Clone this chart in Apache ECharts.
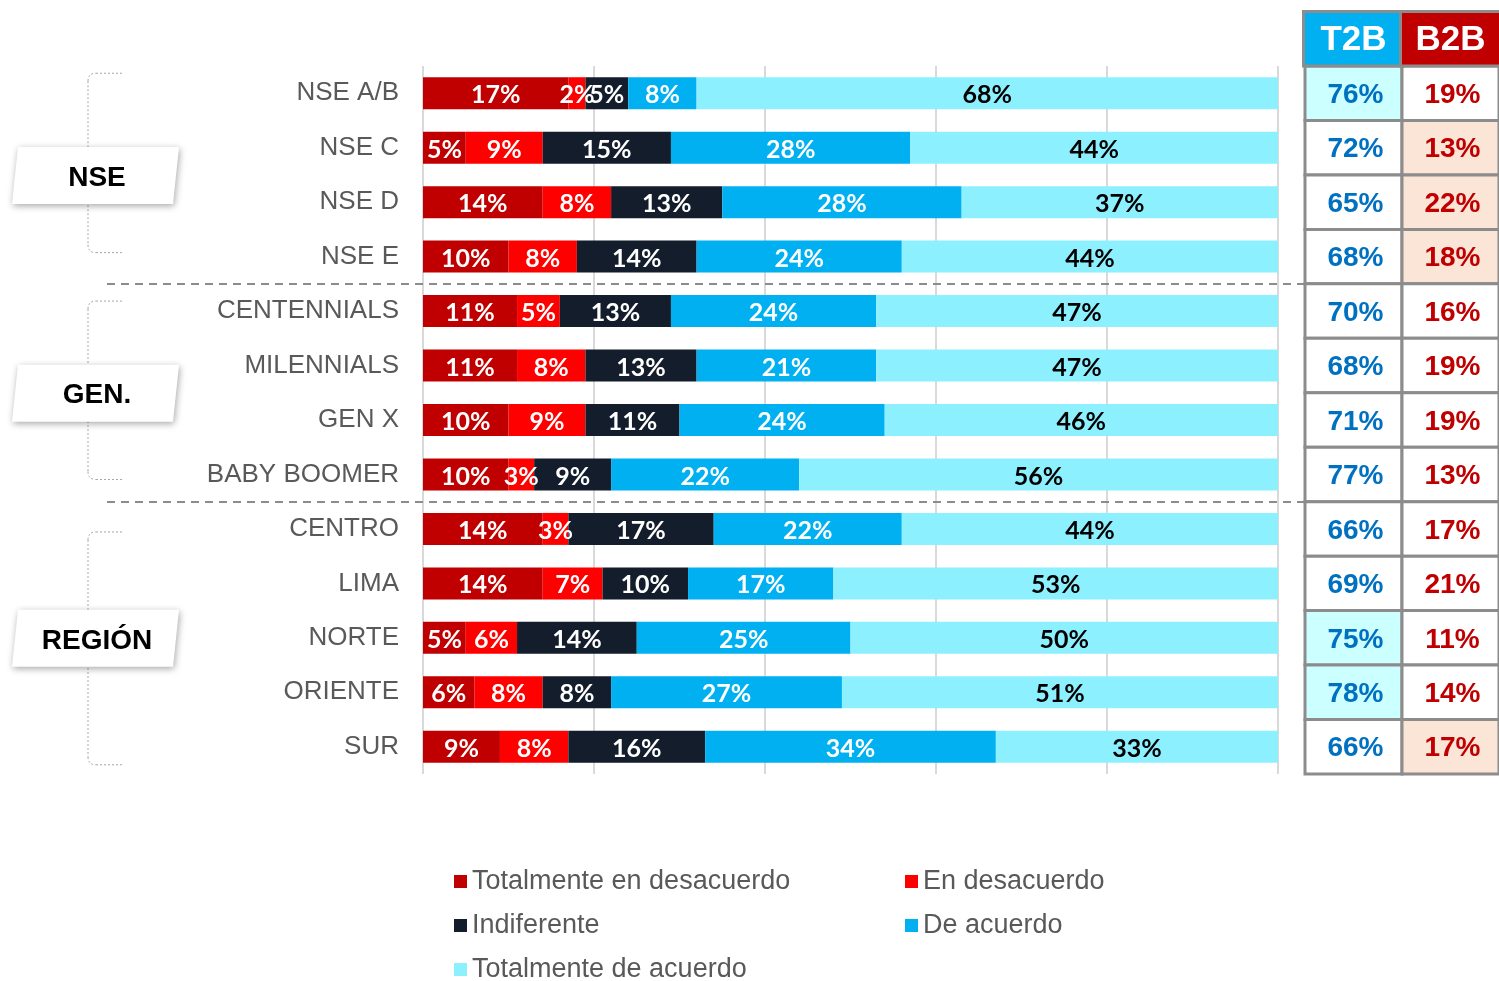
<!DOCTYPE html>
<html>
<head>
<meta charset="utf-8">
<script src="https://cdn.jsdelivr.net/npm/echarts@6/dist/echarts.min.js"></script>
<style>
  html, body { margin: 0; padding: 0; background: #fff; }
  #chart { width: 1499px; height: 981px; }
</style>
</head>
<body>
<div id="chart"></div>
<script>
// rows, top to bottom
const categories = ["NSE A/B", "NSE C", "NSE D", "NSE E", "CENTENNIALS", "MILENNIALS", "GEN X", "BABY BOOMER", "CENTRO", "LIMA", "NORTE", "ORIENTE", "SUR"];

const totDesacuerdo = [17, 5, 14, 10, 11, 11, 10, 10, 14, 14, 5, 6, 9];
const enDesacuerdo = [2, 9, 8, 8, 5, 8, 9, 3, 3, 7, 6, 8, 8];
const indiferente = [5, 15, 13, 14, 13, 13, 11, 9, 17, 10, 14, 8, 16];
const deAcuerdo = [8, 28, 28, 24, 24, 21, 24, 22, 22, 17, 25, 27, 34];
const totAcuerdo = [68, 44, 37, 44, 47, 47, 46, 56, 44, 53, 50, 51, 33];

// summary table
const tableCols = ["T2B", "B2B"];
const t2b = [76, 72, 65, 68, 70, 68, 71, 77, 66, 69, 75, 78, 66];
const b2b = [19, 13, 22, 18, 16, 19, 19, 13, 17, 21, 11, 14, 17];
const t2bMark = [1, 0, 0, 0, 0, 0, 0, 0, 0, 0, 1, 1, 0];
const b2bMark = [0, 1, 1, 1, 0, 0, 0, 0, 0, 0, 0, 0, 1];

const groups = [
  { name: "NSE", from: 0, to: 3 },
  { name: "GEN.", from: 4, to: 7 },
  { name: "REGIÓN", from: 8, to: 12 },
];
// bracket ends relative to first / last row centre
const bracketPad = [[-20, -4], [-10, 5], [3, 18]];

const seriesDefs = [
  { name: "Totalmente en desacuerdo", data: totDesacuerdo, color: "#C00000", text: "#fff" },
  { name: "En desacuerdo", data: enDesacuerdo, color: "#FF0000", text: "#fff" },
  { name: "Indiferente", data: indiferente, color: "#131D2B", text: "#fff" },
  { name: "De acuerdo", data: deAcuerdo, color: "#00B0F0", text: "#fff" },
  { name: "Totalmente de acuerdo", data: totAcuerdo, color: "#8CF0FF", text: "#000" },
];

const tableData = [];
categories.forEach((c, i) => {
  tableData.push([0, i, t2b[i], t2bMark[i]]);
  tableData.push([1, i, b2b[i], b2bMark[i]]);
});

const chart = echarts.init(document.getElementById("chart"));

const barSeries = seriesDefs.map((s) => ({
  name: s.name,
  type: "bar",
  stack: "total",
  barWidth: 32,
  xAxisIndex: 0,
  yAxisIndex: 0,
  itemStyle: { color: s.color },
  label: {
    show: true,
    position: "inside",
    offset: [0, 2],
    formatter: "{c}%",
    color: s.text,
    fontFamily: "Lato",
    fontWeight: "bold",
    fontSize: 25,
  },
  emphasis: { disabled: true },
  data: s.data,
}));

const tableSeries = {
  type: "custom",
  xAxisIndex: 1,
  yAxisIndex: 1,
  silent: true,
  z: 5,
  renderItem: function (params, api) {
    const col = api.value(0);
    const c = api.coord([col, api.value(1)]);
    const sz = api.size([1, 1]);
    const hi = api.value(3);
    let fill = "#fff";
    if (hi) fill = col === 0 ? "#CCFFFF" : "#FBE5D6";
    return {
      type: "group",
      children: [
        {
          type: "rect",
          shape: { x: c[0] - sz[0] / 2, y: c[1] - sz[1] / 2, width: sz[0], height: sz[1] },
          style: { fill: fill, stroke: "#8C8C8C", lineWidth: 3 },
        },
        {
          type: "text",
          style: {
            text: api.value(2) + "%",
            x: c[0] + 2,
            y: c[1] + 2,
            align: "center",
            verticalAlign: "middle",
            fill: col === 0 ? "#0070C0" : "#C00000",
            font: "bold 28px 'Liberation Sans', Arial, sans-serif",
          },
        },
      ],
    };
  },
  data: tableData,
};

const legendBase = {
  orient: "vertical",
  icon: "rect",
  itemWidth: 13,
  itemHeight: 13,
  itemGap: 17,
  padding: 0,
  height: 140,
  selectedMode: false,
  textStyle: {
    fontFamily: "Liberation Sans",
    fontSize: 27,
    color: "#595959",
    lineHeight: 26,
  },
};

chart.setOption({
  animation: false,
  textStyle: { fontFamily: "Liberation Sans" },
  grid: [
    { left: 423, right: 221, top: 66, bottom: 207 },
    { left: 1305, width: 200, top: 66, bottom: 207 },
  ],
  xAxis: [
    {
      type: "value",
      gridIndex: 0,
      min: 0,
      max: 100,
      interval: 20,
      axisLabel: { show: false },
      axisLine: { show: false },
      axisTick: { show: false },
      splitLine: { show: true, lineStyle: { color: "#D9D9D9", width: 2 } },
    },
    {
      type: "category",
      gridIndex: 1,
      data: tableCols,
      show: false,
    },
  ],
  yAxis: [
    {
      type: "category",
      gridIndex: 0,
      inverse: true,
      data: categories,
      axisLine: { show: false },
      axisTick: { show: false },
      axisLabel: { color: "#595959", fontSize: 26, margin: 24, fontFamily: "Liberation Sans" },
    },
    {
      type: "category",
      gridIndex: 1,
      inverse: true,
      data: categories,
      show: false,
    },
  ],
  legend: [
    Object.assign({}, legendBase, {
      left: 454,
      top: 868,
      data: ["Totalmente en desacuerdo", "Indiferente", "Totalmente de acuerdo"],
    }),
    Object.assign({}, legendBase, {
      left: 905,
      top: 868,
      data: ["En desacuerdo", "De acuerdo"],
    }),
  ],
  series: barSeries.concat([tableSeries]),
});

// decorations placed from the axes
function rowY(i) {
  return chart.convertToPixel({ yAxisIndex: 0 }, categories[i]);
}
const rowH = rowY(1) - rowY(0);
const graphics = [];
const dotted = { fill: null, stroke: "#A6A6A6", lineWidth: 1, lineDash: [2, 2] };

// separators between groups
groups.slice(1).forEach((g) => {
  const y = Math.round((rowY(g.from - 1) + rowY(g.from)) / 2);
  graphics.push({
    type: "line",
    z: 20,
    shape: { x1: 107, y1: y, x2: 1499, y2: y },
    style: { stroke: "#8C8C8C", lineWidth: 2, lineDash: [8, 6] },
  });
});

// group brackets + labels
groups.forEach((g, k) => {
  const top = rowY(g.from) + bracketPad[k][0];
  const bot = rowY(g.to) + bracketPad[k][1];
  const mid = (rowY(g.from) + rowY(g.to)) / 2;
  graphics.push({ type: "line", shape: { x1: 96, y1: top, x2: 123, y2: top }, style: dotted });
  graphics.push({ type: "line", shape: { x1: 96, y1: bot, x2: 123, y2: bot }, style: dotted });
  graphics.push({ type: "line", shape: { x1: 88, y1: top + 8, x2: 88, y2: bot - 8 }, style: dotted });
  graphics.push({
    type: "bezierCurve",
    shape: { x1: 88, y1: top + 8, cpx1: 88, cpy1: top, x2: 96, y2: top },
    style: dotted,
  });
  graphics.push({
    type: "bezierCurve",
    shape: { x1: 88, y1: bot - 8, cpx1: 88, cpy1: bot, x2: 96, y2: bot },
    style: dotted,
  });
  graphics.push({
    type: "polygon",
    z: 10,
    shape: {
      points: [[18, mid - 28], [179, mid - 28], [173, mid + 29], [12, mid + 29]],
    },
    style: {
      fill: "#fff",
      shadowBlur: 7,
      shadowColor: "rgba(0,0,0,0.35)",
      shadowOffsetX: 1,
      shadowOffsetY: 2,
    },
  });
  graphics.push({
    type: "text",
    z: 11,
    style: {
      text: g.name,
      x: 97,
      y: mid + 3,
      align: "center",
      verticalAlign: "middle",
      fill: "#000",
      font: "bold 28px 'Liberation Sans', Arial, sans-serif",
    },
  });
});

// table header
const headColors = ["#00B0F0", "#C00000"];
tableCols.forEach((c, i) => {
  const cx = chart.convertToPixel({ xAxisIndex: 1 }, c);
  const y0 = rowY(0) - rowH / 2 - rowH;
  graphics.push({
    type: "rect",
    z: 6,
    shape: { x: cx - 50, y: y0, width: 100, height: rowH },
    style: { fill: headColors[i], stroke: "#8C8C8C", lineWidth: 3 },
  });
  graphics.push({
    type: "text",
    z: 7,
    style: {
      text: c,
      x: cx,
      y: y0 + rowH / 2 + 2,
      align: "center",
      verticalAlign: "middle",
      fill: "#fff",
      font: "bold 35px 'Liberation Sans', Arial, sans-serif",
    },
  });
});

chart.setOption({ graphic: graphics });
</script>
</body>
</html>
